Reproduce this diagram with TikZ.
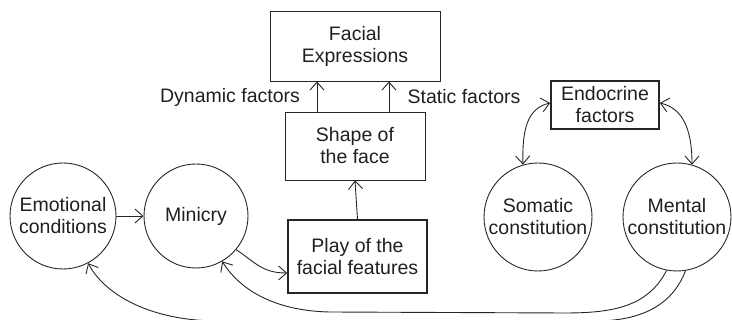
\documentclass[tikz,border=0pt]{standalone}
\usepackage{fontspec}
\setmainfont{Liberation Sans}
\usetikzlibrary{arrows.meta}
\begin{document}
\begin{tikzpicture}[x=1pt,y=-1pt,
  every node/.style={font=\fontsize{19.5}{22}\selectfont, text=black!88, align=center, inner sep=0pt},
  plainbox/.style={draw=black!85, line width=0.9pt, rectangle},
  heavybox/.style={draw=black!85, line width=1.6pt, rectangle},
  bubble/.style={draw=black!85, line width=0.9pt, circle},
  link/.style={draw=black!85, line width=0.9pt, -{Straight Barb[length=8pt,width=14pt]}},
  duallink/.style={draw=black!85, line width=0.9pt, {Straight Barb[length=8pt,width=14pt]}-{Straight Barb[length=8pt,width=14pt]}},
  lbl/.style={}]
\useasboundingbox (0,0) rectangle (732,320);

% boxes
\node[plainbox, minimum width=170pt, minimum height=70pt] (fe) at (355,46) {Facial\\Expressions};
\node[plainbox, minimum width=140pt, minimum height=68pt] (shape) at (355,146) {Shape of\\the face};
\node[heavybox, minimum width=139pt, minimum height=73pt] (play) at (357.5,256.5) {Play of the\\facial features};
\node[heavybox, minimum width=108pt, minimum height=48pt] (endo) at (605,105) {Endocrine\\factors};

% circles
\node[bubble, minimum size=106pt] (emo) at (63,216) {Emotional\\conditions};
\node[bubble, minimum size=104pt] (mini) at (196,216) {Minicry};
\node[bubble, minimum size=108pt] (soma) at (538,217) {Somatic\\constitution};
\node[bubble, minimum size=108pt] (ment) at (677,217) {Mental\\constitution};

% side labels
\node[lbl] (dyn) at (230,97) {Dynamic factors};
\node[lbl] (stat) at (464,97) {Static factors};

% straight connectors
\draw[link] ([xshift=-38pt]shape.north) -- ([xshift=-38pt]fe.south);
\draw[link] ([xshift=34pt]shape.north) -- ([xshift=34pt]fe.south);
\draw[link] (play.north) -- (shape.south);
\draw[link] (emo.east) -- (mini.west);

% endocrine links
\draw[duallink] ([yshift=2pt]endo.west) .. controls (528,108) and (522,128) .. (soma.106);
\draw[duallink] ([yshift=2pt]endo.east) .. controls (682,108) and (692,128) .. (ment.74);

% minicry into play of features
\draw[link] (mini.-40) .. controls (255,262) and (262,273) .. ([yshift=-16.5pt]play.west);

% feedback from mental constitution
\draw[link] (ment.-101) .. controls (648,306) and (615,313) .. (565,313)
  -- (330,312) .. controls (275,311) and (240,290) .. (mini.-60);
\draw[link] (ment.-81) .. controls (672,306) and (640,321) .. (595,321)
  -- (215,321) .. controls (150,320) and (105,295) .. (emo.-62);
\end{tikzpicture}
\end{document}
